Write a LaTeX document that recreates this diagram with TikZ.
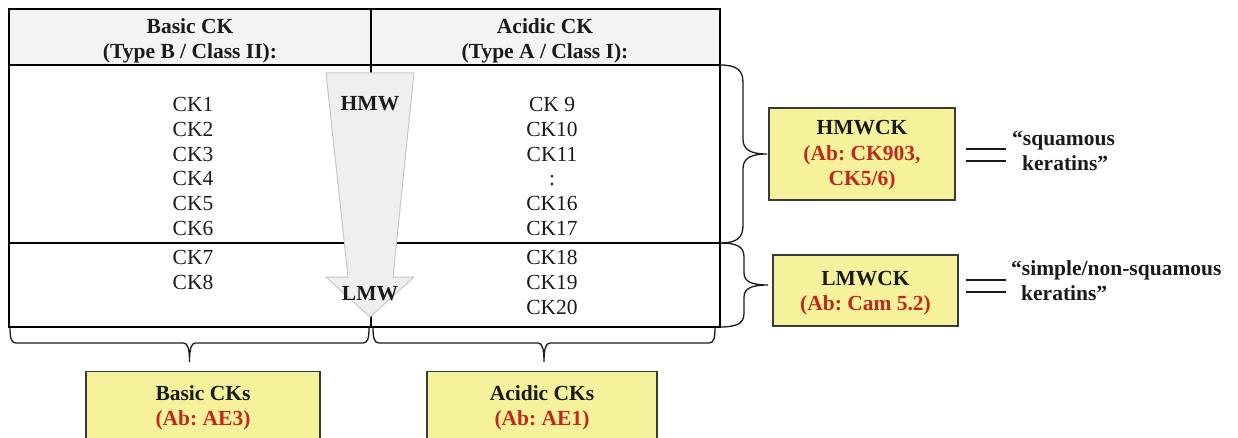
\documentclass[tikz,border=0pt]{standalone}
\usepackage{fontspec}
\setmainfont{Liberation Serif}
\frenchspacing
\definecolor{hdrgrey}{HTML}{F4F4F4}
\definecolor{arrowfill}{HTML}{EEF0F0}
\definecolor{arrowline}{HTML}{C6C8C8}
\definecolor{boxyellow}{HTML}{F6F29B}
\definecolor{boxline}{HTML}{3A3A3A}
\definecolor{abred}{HTML}{C0281E}
\definecolor{inkgrey}{HTML}{1A1A1A}
\tikzset{
  txt/.style={anchor=base, inner sep=0pt, font=\fontsize{21.5}{25}\selectfont, text=inkgrey},
  btxt/.style={txt, font=\fontsize{21.5}{25}\selectfont\bfseries},
  redtxt/.style={btxt, text=abred},
  grid/.style={line width=2pt, draw=black},
  abbox/.style={draw=boxline, line width=1.3pt, fill=boxyellow, inner sep=0pt},
  bracepath/.style={draw=inkgrey, line width=1.3pt},
  equal/.style={line width=1.3pt, draw=inkgrey},
}
% vertical curly brace opening to the right:
% #1 = x of the base, #2/#3 = top/bottom y, #4 = curl depth, #5 = tip depth,
% #6 = curl length, #7 = tip length
\newcommand\kbraceV[7]{%
  \pgfmathsetmacro\kbm{(#2+#3)/2}%
  \pgfmathsetmacro\kbh{#1+#4}%
  \pgfmathsetmacro\kbd{#1+#5}%
  \draw[bracepath] (#1,#2)
    .. controls (#1+0.75*#4,#2) and (\kbh,#2+0.3*#6) .. (\kbh,#2+#6)
    -- (\kbh,\kbm-#7)
    .. controls (\kbh,\kbm-0.3*#7) and (\kbh+0.3*#5-0.3*#4,\kbm) .. (\kbd,\kbm)
    .. controls (\kbh+0.3*#5-0.3*#4,\kbm) and (\kbh,\kbm+0.3*#7) .. (\kbh,\kbm+#7)
    -- (\kbh,#3-#6)
    .. controls (\kbh,#3-0.3*#6) and (#1+0.75*#4,#3) .. (#1,#3);}
% horizontal curly brace opening downwards:
% #1 = y of the base, #2/#3 = left/right x, #4 = curl depth, #5 = tip depth,
% #6 = curl length, #7 = tip length
\newcommand\kbraceH[7]{%
  \pgfmathsetmacro\kbm{(#2+#3)/2}%
  \pgfmathsetmacro\kbh{#1+#4}%
  \pgfmathsetmacro\kbd{#1+#5}%
  \draw[bracepath] (#2,#1)
    .. controls (#2,#1+0.75*#4) and (#2+0.3*#6,\kbh) .. (#2+#6,\kbh)
    -- (\kbm-#7,\kbh)
    .. controls (\kbm-0.3*#7,\kbh) and (\kbm,\kbh+0.3*#5-0.3*#4) .. (\kbm,\kbd)
    .. controls (\kbm,\kbh+0.3*#5-0.3*#4) and (\kbm+0.3*#7,\kbh) .. (\kbm+#7,\kbh)
    -- (#3-#6,\kbh)
    .. controls (#3-0.3*#6,\kbh) and (#3,#1+0.75*#4) .. (#3,#1);}
\begin{document}
\begin{tikzpicture}[x=1pt, y=-1pt]
\useasboundingbox (0,0) rectangle (1238,438);

% table frame
\fill[hdrgrey] (9,9) rectangle (720,65);
\coordinate (tl) at (9,9);
\coordinate (tr) at (720,9);
\coordinate (bl) at (9,327);
\coordinate (br) at (720,327);
\coordinate (hl) at (9,65);
\coordinate (hr) at (720,65);
\coordinate (ml) at (9,243);
\coordinate (mr) at (720,243);
\coordinate (dt) at (371,9);
\coordinate (db) at (371,327);
\draw[grid] (tl) rectangle (br);
\draw[grid] (hl) -- (hr);
\draw[grid] (ml) -- (mr);
\draw[grid] (dt) -- (db);

% column headings
\node[btxt] (hb1) at (190,34) {Basic CK};
\node[btxt] (hb2) at (190,59) {(Type B / Class II):};
\node[btxt] (ha1) at (545,34) {Acidic CK};
\node[btxt] (ha2) at (545,59) {(Type A / Class I):};

% molecular weight arrow
\filldraw[fill=arrowfill, draw=arrowline, line width=1pt]
  (326,73) -- (414,73) -- (393,277) -- (414,277) -- (370,317)
  -- (326,277) -- (348,277) -- cycle;
\node[btxt] (hmw) at (370,111) {HMW};
\node[btxt] (lmw) at (370,300) {LMW};

% basic keratins
\foreach \t/\y [count=\i] in {CK1/112,CK2/137,CK3/162,CK4/186,CK5/211,CK6/236,CK7/264,CK8/289}
  \node[txt] (b\i) at (193,\y) {\t};
% acidic keratins
\foreach \t/\y [count=\i] in {CK 9/112,CK10/137,CK11/162,:/186,CK16/211,CK17/236,CK18/264,CK19/289,CK20/314}
  \node[txt] (a\i) at (552,\y) {\t};

% braces on the right
\kbraceV{720}{65}{243}{23}{47}{18}{15}
\kbraceV{720}{243}{327}{24}{48}{14}{12}

% HMWCK box
\node[abbox, minimum width=186pt, minimum height=92pt] (hbox) at (862,154) {};
\node[btxt] (hbt1) at (862,135) {HMWCK};
\node[redtxt] (hbt2) at (862,161) {(Ab: CK903,};
\node[redtxt] (hbt3) at (862,186) {CK5/6)};

% LMWCK box
\node[abbox, minimum width=185pt, minimum height=71pt] (lbox) at (865.5,290.5) {};
\node[btxt] (lbt1) at (865.5,285) {LMWCK};
\node[redtxt] (lbt2) at (865.5,310) {(Ab: Cam 5.2)};

% equal signs and descriptions
\coordinate (e1a) at (966,149); \coordinate (e1b) at (1006,149);
\coordinate (e2a) at (966,161); \coordinate (e2b) at (1006,161);
\coordinate (e3a) at (966,280); \coordinate (e3b) at (1006,280);
\coordinate (e4a) at (966,292); \coordinate (e4b) at (1006,292);
\draw[equal] (e1a) -- (e1b);
\draw[equal] (e2a) -- (e2b);
\draw[equal] (e3a) -- (e3b);
\draw[equal] (e4a) -- (e4b);
\node[btxt, anchor=base west] (sq1) at (1012,146) {“squamous};
\node[btxt, anchor=base west] (sq2) at (1022,171) {keratins”};
\node[btxt, anchor=base west] (sn1) at (1011,275) {“simple/non-squamous};
\node[btxt, anchor=base west] (sn2) at (1021,300) {keratins”};

% braces under the table
\kbraceH{328}{10}{369}{15}{34}{6}{6}
\kbraceH{328}{373}{715}{15}{34}{6}{6}

% antibody boxes
\node[abbox, minimum width=234pt, minimum height=80pt, anchor=north] (bbox) at (203,371) {};
\node[btxt] (bbt1) at (203,400) {Basic CKs};
\node[redtxt] (bbt2) at (203,425) {(Ab: AE3)};
\node[abbox, minimum width=230pt, minimum height=80pt, anchor=north] (abox) at (542,371) {};
\node[btxt] (abt1) at (542,400) {Acidic CKs};
\node[redtxt] (abt2) at (542,425) {(Ab: AE1)};
\end{tikzpicture}
\end{document}
